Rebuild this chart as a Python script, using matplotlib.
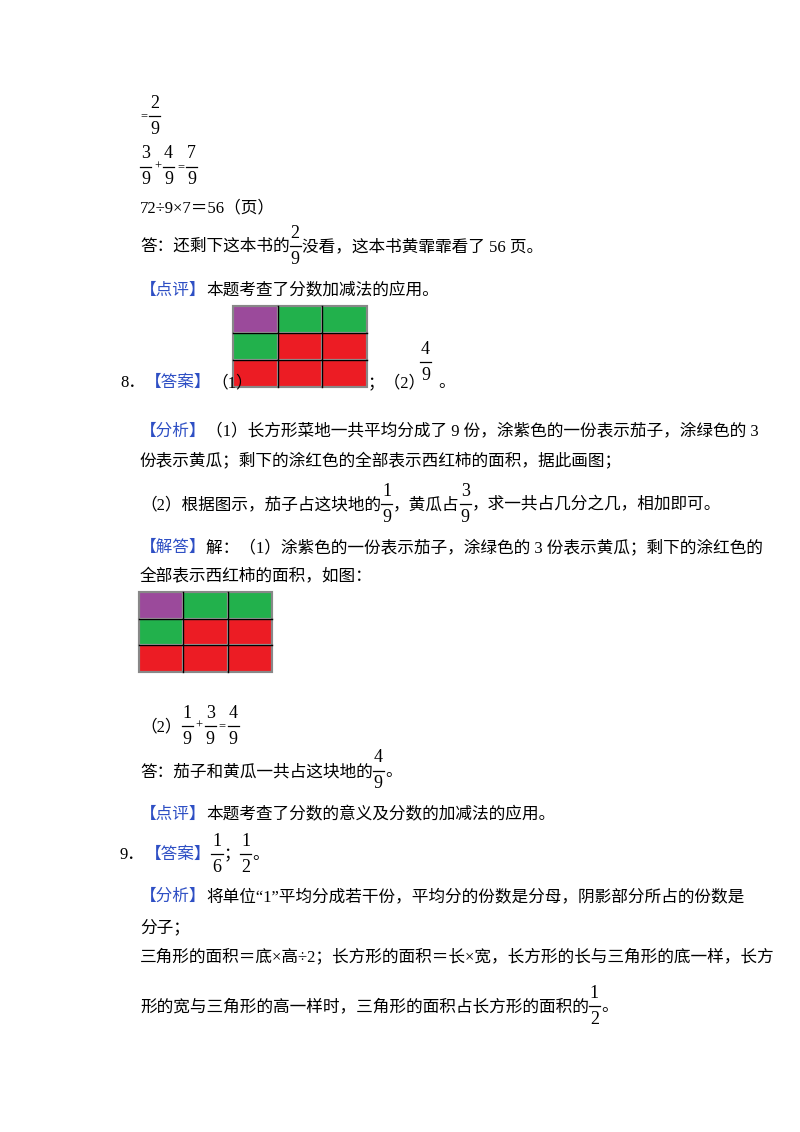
import matplotlib.pyplot as plt
from matplotlib.patches import Rectangle

plt.rcParams['font.family'] = ['Liberation Serif', 'Noto Sans CJK SC', 'DejaVu Sans']

BLUE = '#2e4fc4'
cell_colors = ['#9b4a9b', '#22b14c', '#22b14c',
               '#22b14c', '#ec1c24', '#ec1c24',
               '#ec1c24', '#ec1c24', '#ec1c24']

fig = plt.figure(figsize=(8, 11.32), dpi=100)
ax = fig.add_axes([0, 0, 1, 1])
ax.set_xlim(0, 800)
ax.set_ylim(1132, 0)
ax.axis('off')
fig.canvas.draw()
renderer = fig.canvas.get_renderer()
FS = 12


def width(t):
    bb = t.get_window_extent(renderer)
    return bb.width


def chain(x, y, items):
    # items: str, ('b', str) blue text, ('f', num, den) fraction, ('op', str) operator
    for it in items:
        if isinstance(it, str):
            t = ax.text(x, y, it, fontsize=FS, va='center', ha='left')
            x += width(t)
        elif it[0] == 'b':
            t = ax.text(x, y, it[1], fontsize=FS, va='center', ha='left', color=BLUE)
            x += width(t)
        elif it[0] == 'op':
            t = ax.text(x + 2, y - 1, it[1], fontsize=FS - 3, va='center', ha='left')
            x += width(t) + 4
        else:
            n, d = it[1], it[2]
            t1 = ax.text(x + 1, y - 14, n, fontsize=FS + 1, va='center', ha='left')
            t2 = ax.text(x + 1, y + 12, d, fontsize=FS + 1, va='center', ha='left')
            w = max(width(t1), width(t2)) + 2
            ax.plot([x, x + w], [y - 1, y - 1], color='black', lw=0.9)
            x += w + 1
    return x


def grid(x0, y0, w, h):
    cw, ch = w / 3, h / 3
    for i, c in enumerate(cell_colors):
        r, k = divmod(i, 3)
        ax.add_patch(Rectangle((x0 + k * cw, y0 + r * ch), cw, ch, facecolor=c,
                               edgecolor='#aaaaaa', lw=1.5))
    for k in range(1, 3):
        ax.plot([x0 + k * cw] * 2, [y0, y0 + h], color='black', lw=1)
        ax.plot([x0, x0 + w], [y0 + k * ch] * 2, color='black', lw=1)
    ax.add_patch(Rectangle((x0, y0), w, h, fill=False, edgecolor='#888888', lw=1.5))


chain(138, 117, [('op', '='), ('f', '2', '9')])
chain(140, 168, [('f', '3', '9'), ('op', '+'), ('f', '4', '9'), ('op', '='), ('f', '7', '9')])
chain(140, 208, ['72÷9×7＝56（页）'])
chain(140, 247, ['答：还剩下这本书的', ('f', '2', '9'), '没看，这本书黄霏霏看了 56 页。'])
chain(140, 291, [('b', '【点评】'), '本题考查了分数加减法的应用。'])

chain(120, 383, ['8．', ('b', '【答案】'), '（1）'])
grid(233, 306, 134, 81)
chain(368, 383, ['；（2）'])
chain(420, 363, [('f', '4', '9')])
chain(438, 383, ['。'])

chain(140, 432, [('b', '【分析】'), '（1）长方形菜地一共平均分成了 9 份，涂紫色的一份表示茄子，涂绿色的 3'])
chain(140, 462, ['份表示黄瓜；剩下的涂红色的全部表示西红柿的面积，据此画图；'])
chain(140, 505, ['（2）根据图示，茄子占这块地的', ('f', '1', '9'), '，黄瓜占', ('f', '3', '9'),
                 '，求一共占几分之几，相加即可。'])
chain(140, 548, [('b', '【解答】'), '解：（1）涂紫色的一份表示茄子，涂绿色的 3 份表示黄瓜；剩下的涂红色的'])
chain(140, 577, ['全部表示西红柿的面积，如图：'])
grid(139, 592, 133, 80)

chain(140, 727, ['（2）', ('f', '1', '9'), ('op', '+'), ('f', '3', '9'), ('op', '='), ('f', '4', '9')])
chain(140, 772, ['答：茄子和黄瓜一共占这块地的', ('f', '4', '9'), '。'])
chain(140, 815, [('b', '【点评】'), '本题考查了分数的意义及分数的加减法的应用。'])
chain(120, 855, ['9．', ('b', '【答案】'), ('f', '1', '6'), '；', ('f', '1', '2'), '。'])
chain(140, 897, [('b', '【分析】'), '将单位“1”平均分成若干份，平均分的份数是分母，阴影部分所占的份数是'])
chain(140, 928, ['分子；'])
chain(140, 957, ['三角形的面积＝底×高÷2；长方形的面积＝长×宽，长方形的长与三角形的底一样，长方'])
chain(140, 1007, ['形的宽与三角形的高一样时，三角形的面积占长方形的面积的', ('f', '1', '2'), '。'])

fig.savefig('out.png', dpi=100)
